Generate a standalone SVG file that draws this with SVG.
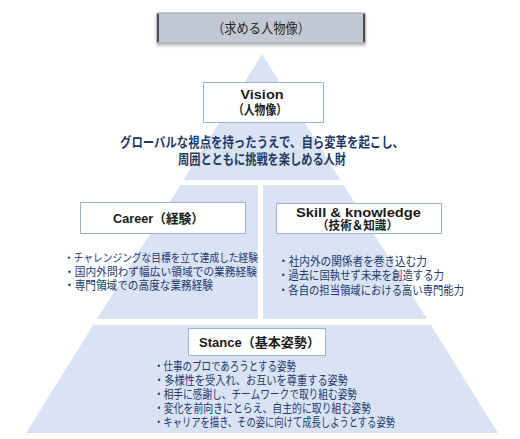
<svg xmlns="http://www.w3.org/2000/svg" width="520" height="439" viewBox="0 0 520 439">
<defs>
<style>
.tier{fill:#dae3f3;}
.box{fill:#ffffff;stroke:#9db1d1;stroke-width:1;}
.lbl{font-family:"Liberation Sans","Noto Sans CJK JP",sans-serif;font-size:13px;font-weight:bold;fill:#1a1a1a;text-anchor:middle;}
.head{font-family:"Liberation Sans","Noto Sans CJK JP",sans-serif;font-size:13.5px;font-weight:bold;fill:#1f3864;text-anchor:middle;}
.bul{font-family:"Liberation Sans","Noto Sans CJK JP",sans-serif;font-size:12px;fill:#223a6e;}
.title{font-family:"Liberation Sans","Noto Sans CJK JP",sans-serif;font-size:14px;fill:#262626;text-anchor:middle;}
</style>
<filter id="sh" x="-10%" y="-20%" width="120%" height="160%">
<feDropShadow dx="0" dy="2" stdDeviation="1.5" flood-color="#000" flood-opacity="0.3"/>
</filter>
</defs>

<g id="pyramid">
<polygon class="tier" points="262,54 340.5,180 183.5,180"/>
<polygon class="tier" points="180.4,185 258,185 258,319 97,319"/>
<polygon class="tier" points="263,185 343.6,185 427,319 263,319"/>
<polygon class="tier" points="93.2,325 430.8,325 498,433 26,433"/>
</g>

<g id="title">
<rect x="157" y="13" width="208" height="30" fill="#c3c9d4" stroke="#9aa0aa" stroke-width="1" filter="url(#sh)"/>
<line x1="158" y1="14" x2="158" y2="42" stroke="#4a4d52" stroke-width="2"/>
<line x1="364" y1="14" x2="364" y2="42" stroke="#4a4d52" stroke-width="2"/>
<text class="title" x="261" y="33" textLength="98" lengthAdjust="spacingAndGlyphs">（求める人物像）</text>
</g>

<g id="vision">
<rect class="box" x="203.5" y="82.5" width="120" height="40"/>
<text class="lbl" x="262" y="98.5" textLength="43" lengthAdjust="spacingAndGlyphs">Vision</text>
<text class="lbl" x="260" y="114" textLength="54" lengthAdjust="spacingAndGlyphs">（人物像）</text>
<text class="head" x="262" y="147" textLength="284" lengthAdjust="spacingAndGlyphs">グローバルな視点を持ったうえで、自ら変革を起こし、</text>
<text class="head" x="262" y="164" textLength="168" lengthAdjust="spacingAndGlyphs">周囲とともに挑戦を楽しめる人財</text>
</g>

<g id="career">
<rect class="box" x="80.5" y="202.5" width="165" height="31"/>
<text class="lbl" x="158.5" y="222.5" textLength="91" lengthAdjust="spacingAndGlyphs">Career（経験）</text>
<text class="bul" x="64" y="262" style="font-size:11.3px" textLength="194" lengthAdjust="spacingAndGlyphs">・チャレンジングな目標を立て達成した経験</text>
<text class="bul" x="64" y="276" style="font-size:11.5px" textLength="193" lengthAdjust="spacingAndGlyphs">・国内外問わず幅広い領域での業務経験</text>
<text class="bul" x="64" y="290" textLength="149" lengthAdjust="spacingAndGlyphs">・専門領域での高度な業務経験</text>
</g>

<g id="skill">
<rect class="box" x="276.5" y="203.5" width="165" height="30"/>
<text class="lbl" x="358.5" y="216.5" style="font-size:12px" textLength="125" lengthAdjust="spacingAndGlyphs">Skill &amp; knowledge</text>
<text class="lbl" x="357.5" y="230" style="font-size:12px" textLength="81" lengthAdjust="spacingAndGlyphs">（技術＆知識）</text>
<text class="bul" x="278" y="265.5" textLength="149" lengthAdjust="spacingAndGlyphs">・社内外の関係者を巻き込む力</text>
<text class="bul" x="278" y="280" textLength="166" lengthAdjust="spacingAndGlyphs">・過去に固執せず未来を創造する力</text>
<text class="bul" x="278" y="294.5" textLength="186" lengthAdjust="spacingAndGlyphs">・各自の担当領域における高い専門能力</text>
</g>

<g id="stance">
<rect class="box" x="188.5" y="328.5" width="137" height="27"/>
<text class="lbl" x="259.5" y="346.5" textLength="121" lengthAdjust="spacingAndGlyphs">Stance（基本姿勢）</text>
<text class="bul" x="154" y="370.5" textLength="142" lengthAdjust="spacingAndGlyphs">・仕事のプロであろうとする姿勢</text>
<text class="bul" x="154" y="384.5" textLength="194" lengthAdjust="spacingAndGlyphs">・多様性を受入れ、お互いを尊重する姿勢</text>
<text class="bul" x="154" y="398.5" textLength="203" lengthAdjust="spacingAndGlyphs">・相手に感謝し、チームワークで取り組む姿勢</text>
<text class="bul" x="154" y="412.5" textLength="217" lengthAdjust="spacingAndGlyphs">・変化を前向きにとらえ、自主的に取り組む姿勢</text>
<text class="bul" x="154" y="426.5" textLength="241" lengthAdjust="spacingAndGlyphs">・キャリアを描き、その姿に向けて成長しようとする姿勢</text>
</g>

<g id="connectors"></g>
</svg>
